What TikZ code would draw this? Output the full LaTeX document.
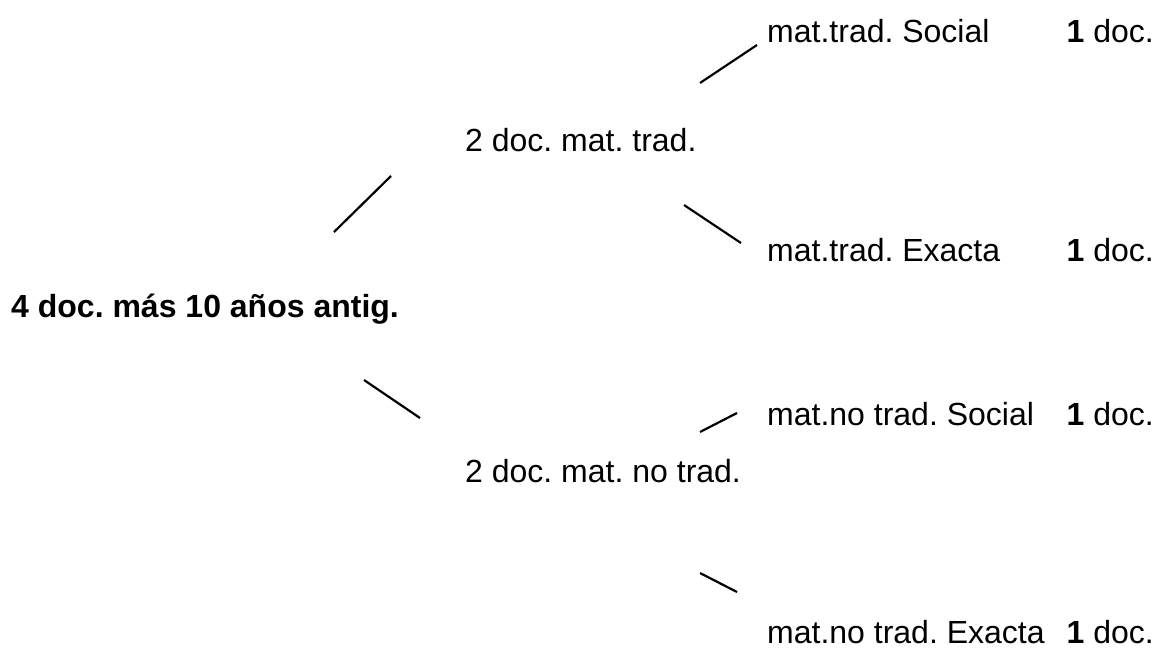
\documentclass[tikz,border=0pt]{standalone}
\usepackage{fontspec}
\setmainfont{Liberation Sans}
\frenchspacing
\begin{document}
\begin{tikzpicture}[x=1pt,y=-1pt,
  lbl/.style={anchor=base west,inner sep=0pt,font=\fontsize{32}{38}\selectfont\frenchspacing},
  cnt/.style={anchor=base east,inner sep=0pt,font=\fontsize{32}{38}\selectfont\frenchspacing},
  conn/.style={line width=2.2pt}]
\useasboundingbox (0,0) rectangle (1161,650);
\node[lbl,font=\fontsize{32}{38}\selectfont\bfseries\frenchspacing] (root) at (11,317) {4 doc. más 10 años antig.};
\node[lbl] (trad) at (465,151) {2 doc. mat. trad.};
\node[lbl] (notrad) at (465,482) {2 doc. mat. no trad.};
\node[lbl] (ts) at (767,43) {mat.trad. Social};
\node[lbl] (te) at (767,261) {mat.trad. Exacta};
\node[lbl] (ns) at (767,425) {mat.no trad. Social};
\node[lbl] (ne) at (767,643) {mat.no trad. Exacta};
\node[cnt] (tsn) at (1154,43) {\textbf{1} doc.};
\node[cnt] (ten) at (1154,261) {\textbf{1} doc.};
\node[cnt] (nsn) at (1154,425) {\textbf{1} doc.};
\node[cnt] (nen) at (1154,643) {\textbf{1} doc.};
\coordinate (a1) at (334,232); \coordinate (a2) at (391,176);
\coordinate (b1) at (684,205); \coordinate (b2) at (741,243);
\coordinate (c1) at (700,83);  \coordinate (c2) at (757,45);
\coordinate (d1) at (364,380); \coordinate (d2) at (420,418);
\coordinate (e1) at (700,432); \coordinate (e2) at (737,413);
\coordinate (f1) at (700,573); \coordinate (f2) at (737,592);
\draw[conn] (a1) -- (a2);
\draw[conn] (b1) -- (b2);
\draw[conn] (c1) -- (c2);
\draw[conn] (d1) -- (d2);
\draw[conn] (e1) -- (e2);
\draw[conn] (f1) -- (f2);
\end{tikzpicture}
\end{document}
